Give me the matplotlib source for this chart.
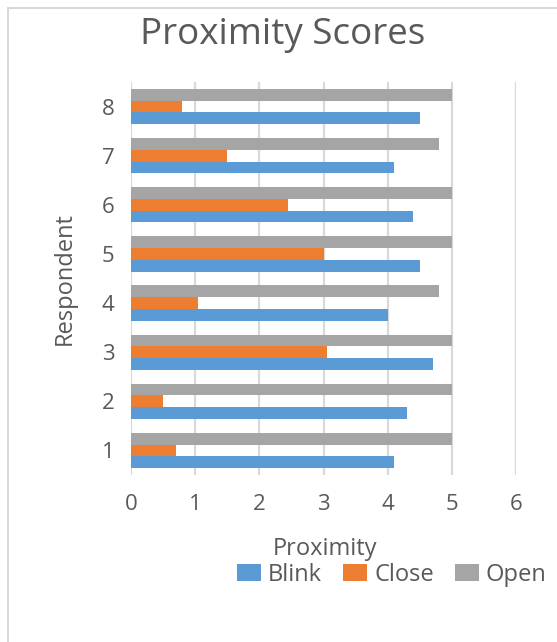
import matplotlib.pyplot as plt
import matplotlib.patches as patches
import numpy as np

plt.rcParams['font.family'] = ['Open Sans', 'DejaVu Sans']

respondents = [1, 2, 3, 4, 5, 6, 7, 8]
blink = [4.1, 4.3, 4.7, 4.0, 4.5, 4.4, 4.1, 4.5]
close = [0.7, 0.5, 3.05, 1.05, 3.0, 2.45, 1.5, 0.8]
open_ = [5.0, 5.0, 5.0, 4.8, 5.0, 5.0, 4.8, 5.0]

series = [("Blink", blink, "#5B9BD5"),
          ("Close", close, "#ED7D31"),
          ("Open", open_, "#A5A5A5")]

txt = "#595959"
grid = "#d9d9d9"

fig = plt.figure(figsize=(5.57, 6.42), dpi=100)
ax = fig.add_axes([131 / 557, 1 - 475 / 642, (516 - 131) / 557, (475 - 82) / 642])

y = np.array(respondents)
h = 0.24
for i, (name, vals, col) in enumerate(series):
    ax.barh(y + (i - 1) * h, vals, height=h, color=col, label=name, zorder=3)

ax.set_xlim(0, 6)
ax.set_ylim(0.5, 8.5)
ax.set_xticks(range(0, 7))
ax.set_yticks(respondents)
ax.xaxis.grid(True, color=grid, linewidth=1.6, zorder=0)
for s in ax.spines.values():
    s.set_visible(False)
ax.tick_params(axis='both', length=0, colors=txt, labelsize=16)
ax.tick_params(axis='x', pad=14)
ax.tick_params(axis='y', pad=12)

ax.set_xlabel("Proximity", color=txt, fontsize=17, va='center')
ax.xaxis.set_label_coords((325 - 131) / 385, (475 - 549) / 393)
ax.set_ylabel("Respondent", color=txt, fontsize=17, va='center')
ax.yaxis.set_label_coords((65 - 131) / 385, 0.5)
fig.text(283 / 557, 1 - 35 / 642, "Proximity Scores", color=txt, fontsize=26.5,
         ha='center', va='center')

fig.legend(loc='center left', bbox_to_anchor=(228 / 557, 1 - 575 / 642), ncol=3,
           frameon=False, fontsize=17, labelcolor=txt, handlelength=1.0,
           handleheight=0.7, handletextpad=0.3, columnspacing=0.9,
           borderaxespad=0)

# light frame around the chart area
fig.patches.append(patches.Rectangle((8 / 557, -0.1), 1.2, 1 - 8 / 642 + 0.1,
                                     transform=fig.transFigure, fill=False,
                                     edgecolor=grid, linewidth=1.5))

fig.savefig("out.png", dpi=100)
